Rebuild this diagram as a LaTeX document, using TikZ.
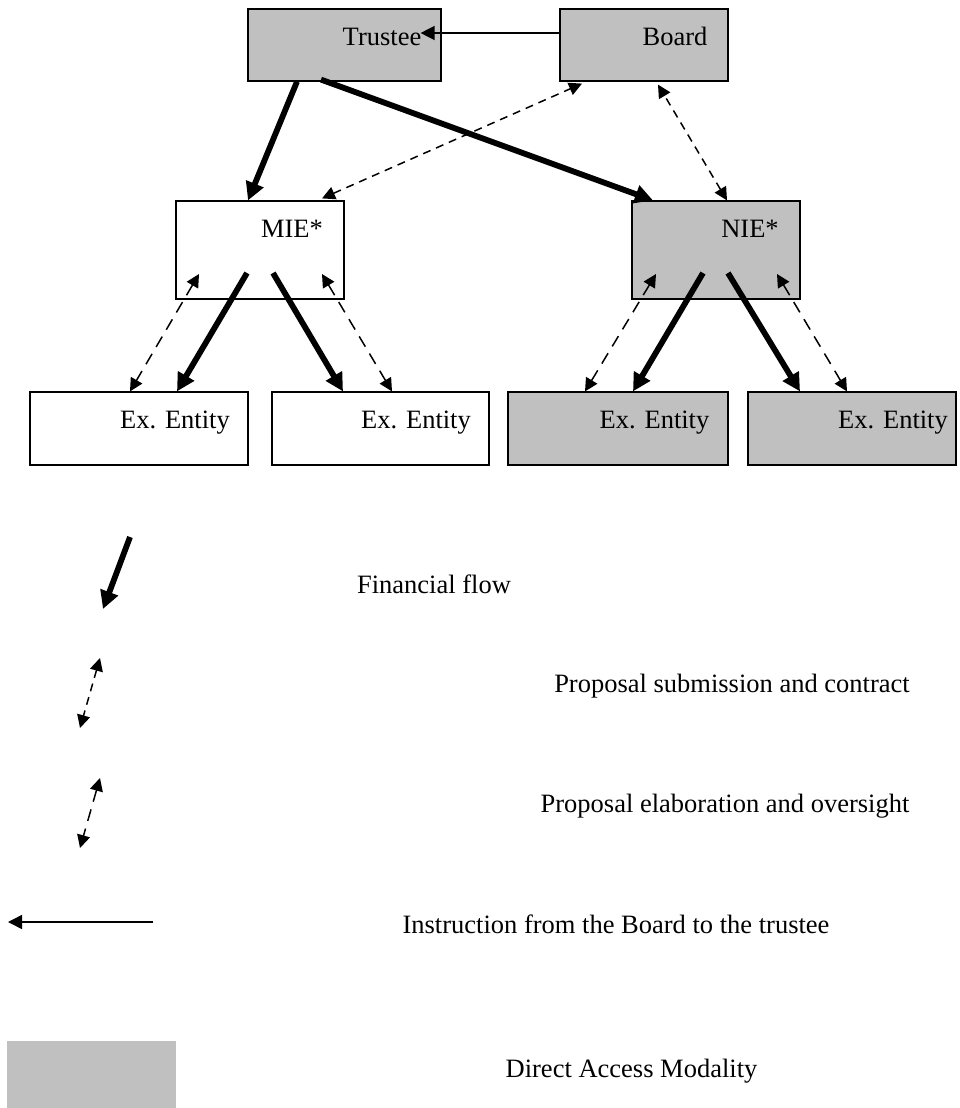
\documentclass[tikz,border=0pt]{standalone}
\usepackage{fontspec}
\setmainfont{Liberation Serif}
\usepackage{tikz}
\usetikzlibrary{positioning}
\usetikzlibrary{arrows.meta}
\usetikzlibrary{calc}

\definecolor{boxgray}{RGB}{192,192,192}

\begin{document}
\begin{tikzpicture}[x=0.5pt, y=-0.5pt,
        box/.style={draw, line width=0.6pt, inner sep=0pt, minimum width=84pt, minimum height=49pt},
        direct/.style={box, fill=boxgray},
        entity/.style={minimum width=109pt, minimum height=36.5pt},
        lbl/.style={anchor=base, inner sep=0pt, font=\fontsize{13.25}{16}\selectfont},
        money/.style={line width=2.9pt, -{Triangle[length=9pt,width=9pt]}},
        submit/.style={line width=0.75pt, dash pattern=on 4pt off 3pt,
            {Triangle[length=6.5pt,width=6.5pt]}-{Triangle[length=6.5pt,width=6.5pt]}},
        elab/.style={line width=0.75pt, dash pattern=on 6pt off 4pt,
            {Triangle[length=6.5pt,width=6.5pt]}-{Triangle[length=6.5pt,width=6.5pt]}},
        instr/.style={line width=0.75pt, -{Triangle[length=7pt,width=7pt]}}]
        \useasboundingbox (0,0) rectangle (959,1108);

        % top level
        \node[direct, minimum width=96.5pt, minimum height=36pt] (trustee) at (344.5,45) {};
        \node[direct, minimum height=36pt] (board) at (644,45) {};
        \node[lbl] (trusteeTxt) at (382,45) {Trustee};
        \node[lbl] (boardTxt) at (675,45) {Board};

        % implementing entities
        \node[box] (mie) at (260,250) {};
        \node[direct] (nie) at (716,250) {};
        \node[lbl] (mieTxt) at (292,237) {MIE*};
        \node[lbl] (nieTxt) at (750,237) {NIE*};

        % executing entities
        \node[box, entity] (exA) at (139,428.5) {};
        \node[box, entity, minimum width=108.5pt] (exB) at (380.5,428.5) {};
        \node[direct, entity, minimum width=110pt] (exC) at (618,428.5) {};
        \node[direct, entity, minimum width=104pt] (exD) at (852,428.5) {};
        \node[lbl] (exATxt) at (175,428) {Ex. Entity};
        \node[lbl] (exBTxt) at (416,428) {Ex. Entity};
        \node[lbl] (exCTxt) at (654.5,428) {Ex. Entity};
        \node[lbl] (exDTxt) at (893,428) {Ex. Entity};

        \draw[instr] ($(board.west)+(0,-12)$) -- ($(trustee.east)+(-21,-12)$);
        \draw[money] ($(trustee.south)+(-47.5,0)$) -- ($(mie.north)+(-12,0)$);
        \draw[money] ($(trustee.south)+(-23.5,-2)$) -- ($(nie.north)+(-63,0)$);
        \draw[submit] ($(mie.north)+(62,-2)$) -- ($(board.south)+(-62,2)$);
        \draw[submit] ($(nie.north)+(11,0)$) -- ($(board.south)+(14,3)$);

        \draw[money] ($(mie.center)+(-13,23)$) -- ($(exA.north)+(38,0)$);
        \draw[money] ($(mie.center)+(13,23)$) -- ($(exB.north)+(-37.5,0)$);
        \draw[elab] ($(mie.center)+(-61,24)$) -- ($(exA.north)+(-9,0)$);
        \draw[elab] ($(mie.center)+(62,24)$) -- ($(exB.north)+(11.5,0)$);

        \draw[money] ($(nie.center)+(-13,23)$) -- ($(exC.north)+(15,0)$);
        \draw[money] ($(nie.center)+(12,23)$) -- ($(exD.north)+(-52,0)$);
        \draw[elab] ($(nie.center)+(-60,24)$) -- ($(exC.north)+(-33,0)$);
        \draw[elab] ($(nie.center)+(61,24)$) -- ($(exD.north)+(-5,0)$);

        % legend
        \coordinate (finA) at (130,537);
        \coordinate (finB) at (103,609);
        \coordinate (subA) at (100,658);
        \coordinate (subB) at (80,728);
        \coordinate (elabA) at (100,778);
        \coordinate (elabB) at (80,848);
        \coordinate (instA) at (153,922);
        \coordinate (instB) at (8,922);
        \draw[money] (finA) -- (finB);
        \draw[submit] (subA) -- (subB);
        \draw[elab] (elabA) -- (elabB);
        \draw[instr] (instA) -- (instB);
        \node[fill=boxgray, inner sep=0pt, minimum width=84.5pt, minimum height=33.5pt] (daKey) at (91.5,1074.5) {};

        \node[lbl] (finTxt) at (434,593) {Financial flow};
        \node[lbl] (subTxt) at (732,692) {Proposal submission and contract};
        \node[lbl] (elabTxt) at (725,812) {Proposal elaboration and oversight};
        \node[lbl] (instTxt) at (616,933) {Instruction from the Board to the trustee};
        \node[lbl] (daTxt) at (631.5,1077) {Direct Access Modality};
\end{tikzpicture}
\end{document}
